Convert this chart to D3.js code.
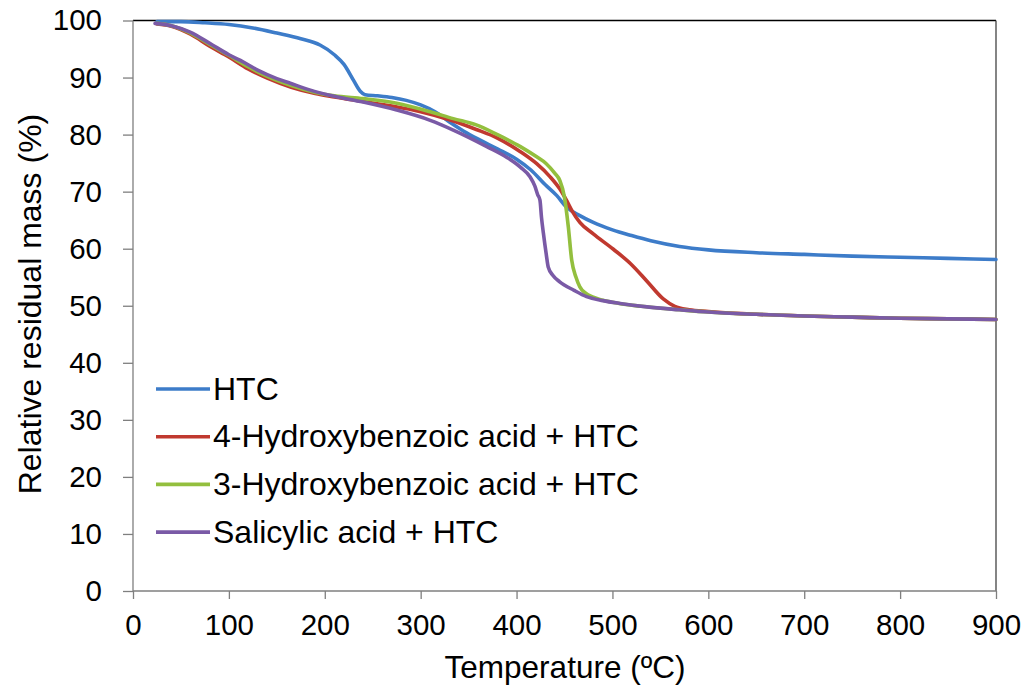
<!DOCTYPE html>
<html><head><meta charset="utf-8">
<script src="https://cdn.jsdelivr.net/npm/d3@7"></script>
<style>
html,body{margin:0;padding:0;background:#fff;}
svg text{font-family:"Liberation Sans",Arial,sans-serif;fill:#000;}
</style></head>
<body>
<svg id="chart" width="1027" height="693"></svg>
<script>
const seriesNames = ["HTC","4-Hydroxybenzoic acid + HTC","3-Hydroxybenzoic acid + HTC","Salicylic acid + HTC"];
const seriesColors = ["#3d7cc9","#c0392f","#93bf3e","#7a5aa6"];
const xTicks = [0,100,200,300,400,500,600,700,800,900];
const yTicks = [0,10,20,30,40,50,60,70,80,90,100];

const htc = [[25,99.8],[50,99.8],[75,99.6],[100,99.3],[125,98.7],[150,97.8],[175,96.8],[195,95.7],[210,94.0],[220,92.3],[230,89.5],[237,87.6],[242,87.0],[255,86.8],[270,86.5],[285,86.0],[300,85.2],[315,84.0],[330,82.2],[345,80.6],[360,79.2],[380,77.5],[400,75.7],[415,73.8],[430,71.2],[442,69.3],[452,67.3],[466,65.8],[480,64.6],[500,63.3],[520,62.3],[540,61.4],[570,60.4],[600,59.8],[650,59.3],[700,59.0],[750,58.7],[800,58.5],[850,58.3],[900,58.1]];
const hba4 = [[25,99.4],[40,99.0],[60,97.6],[80,95.5],[100,93.6],[120,91.5],[140,89.9],[165,88.3],[190,87.2],[210,86.6],[240,85.8],[270,85.0],[300,84.0],[330,82.6],[358,80.9],[380,79.4],[404,77.0],[421,74.9],[435,72.6],[445,70.5],[452,68.5],[458,66.6],[466,64.6],[480,62.6],[501,59.9],[520,57.2],[536,54.3],[553,51.2],[565,49.9],[580,49.3],[600,49.0],[650,48.5],[700,48.2],[750,48.0],[800,47.8],[850,47.7],[900,47.6]];
const hba3 = [[25,99.5],[40,99.1],[60,97.8],[80,95.8],[100,93.9],[120,91.9],[140,90.2],[165,88.6],[190,87.4],[210,86.8],[240,86.3],[275,85.5],[310,84.0],[334,82.8],[358,81.7],[380,80.0],[404,77.9],[421,76.1],[431,74.9],[440,73.2],[445,72.0],[450,69.0],[454,63.8],[457.5,58.0],[462,55.0],[466,53.3],[472,52.2],[480,51.5],[500,50.6],[530,49.9],[570,49.3],[600,48.9],[650,48.5],[700,48.2],[750,48.0],[800,47.8],[850,47.7],[900,47.6]];
const salicylic = [[23,99.5],[40,99.1],[59,98.0],[80,96.0],[100,94.0],[112,93.0],[130,91.3],[150,89.8],[164,89.0],[185,87.8],[205,86.9],[240,85.7],[275,84.3],[310,82.5],[334,80.8],[369,77.9],[390,76.0],[404,74.3],[414,72.6],[419,71.0],[422,69.5],[424.4,68.5],[426,65.5],[428,62.7],[431,59.0],[433,56.8],[438,55.3],[445,54.2],[460,52.7],[473,51.6],[490,50.9],[508,50.4],[536,49.8],[570,49.3],[600,48.9],[650,48.5],[700,48.2],[750,48.0],[800,47.8],[850,47.7],[900,47.6]];
const seriesData = [htc, hba4, hba3, salicylic];

const svg = d3.select("#chart");
const L = 133, R = 996, T = 20.5, B = 591;
const x = d3.scaleLinear().domain([0,900]).range([L,R]);
const y = d3.scaleLinear().domain([0,100]).range([B,T]);

// top & right frame
svg.append("line").attr("x1",L).attr("x2",R).attr("y1",T).attr("y2",T).attr("stroke","#000").attr("stroke-width",1.5);
svg.append("line").attr("x1",R).attr("x2",R).attr("y1",T).attr("y2",B).attr("stroke","#333").attr("stroke-width",1.2);

const xAxis = svg.append("g").attr("transform",`translate(0,${B})`)
  .call(d3.axisBottom(x).tickValues(xTicks).tickSize(8).tickPadding(15));
const yAxis = svg.append("g").attr("transform",`translate(${L},0)`)
  .call(d3.axisLeft(y).tickValues(yTicks).tickSize(10).tickPadding(21));
[xAxis,yAxis].forEach(a=>{
  a.selectAll("path").attr("stroke","#7f7f7f").attr("stroke-width",1.3);
  a.selectAll("line").attr("stroke","#7f7f7f").attr("stroke-width",1.3);
  a.selectAll("text").style("font-size","29.5px").style("font-family","'Liberation Sans',Arial,sans-serif").attr("fill","#000");
});
xAxis.selectAll("path").attr("d",`M${L},0H${R}`);
yAxis.selectAll("path").attr("d",`M0,${B}V${T}`);

const line = d3.line().x(d=>x(d[0])).y(d=>y(d[1])).curve(d3.curveMonotoneX);
seriesData.forEach((s,i)=>{
  svg.append("path").datum(s).attr("d",line).attr("fill","none")
    .attr("stroke",seriesColors[i]).attr("stroke-width",3.6)
    .attr("stroke-linejoin","round").attr("stroke-linecap","round");
});

// legend
const lg = svg.append("g");
seriesNames.forEach((n,i)=>{
  const yy = 389 + i*47.7;
  lg.append("line").attr("x1",156).attr("x2",210).attr("y1",yy).attr("y2",yy)
    .attr("stroke",seriesColors[i]).attr("stroke-width",3.6);
  lg.append("text").attr("x",213).attr("y",yy+10.5).style("font-size","32px").text(n);
});

// axis titles
svg.append("text").attr("x",565).attr("y",678).attr("text-anchor","middle").style("font-size","31.5px").text("Temperature (ºC)");
svg.append("text").attr("transform","translate(41,304) rotate(-90)").attr("text-anchor","middle").style("font-size","32px").text("Relative residual mass (%)");
</script>
</body></html>
